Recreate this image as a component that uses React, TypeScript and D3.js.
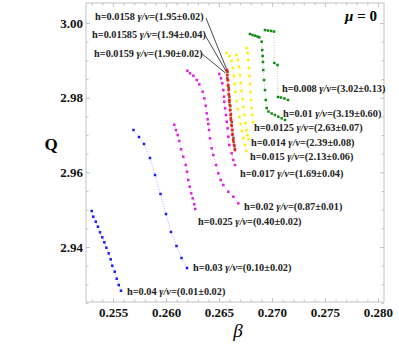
import * as d3 from "d3";
import { useEffect, useRef } from "react";

// beta, Q pairs, one array per field value h
const h004 = [[0.25299, 2.94964], [0.25314, 2.94812], [0.25337, 2.94678], [0.25358, 2.94544], [0.25377, 2.94394], [0.25399, 2.9426], [0.25418, 2.94126], [0.25437, 2.93981], [0.25459, 2.93831], [0.25478, 2.9367], [0.25493, 2.93499], [0.25516, 2.93338], [0.25535, 2.93151], [0.25554, 2.92982], [0.25575, 2.92829]];
const h003 = [[0.25693, 2.97134], [0.25745, 2.96946], [0.25792, 2.96759], [0.25849, 2.96384], [0.25896, 2.95929], [0.25948, 2.9542], [0.26, 2.94884], [0.26047, 2.94402], [0.26099, 2.94027], [0.26146, 2.93705], [0.26198, 2.93438]];
const h0025 = [[0.26078, 2.97276], [0.26094, 2.97134], [0.2611, 2.97], [0.26126, 2.96839], [0.26142, 2.96617], [0.26163, 2.96419], [0.26186, 2.96196], [0.26198, 2.96017], [0.2621, 2.95795], [0.26224, 2.95615], [0.26238, 2.95438], [0.26252, 2.95304], [0.26267, 2.95144], [0.26276, 2.95018]];
const h002 = [[0.26201, 2.98722], [0.26226, 2.98653], [0.26258, 2.98588], [0.2629, 2.98473], [0.26314, 2.98358], [0.26346, 2.9816], [0.26361, 2.97983], [0.26375, 2.97785], [0.26384, 2.97581], [0.26393, 2.97421], [0.26399, 2.97295], [0.26406, 2.97134], [0.26415, 2.96912], [0.26431, 2.96644], [0.26446, 2.96464], [0.26472, 2.96196], [0.26493, 2.95974], [0.26516, 2.95795], [0.26541, 2.95661], [0.26588, 2.95481], [0.26635, 2.95347], [0.26682, 2.9517]];
const h0017 = [[0.26503, 2.98634], [0.26519, 2.98519], [0.26531, 2.98385], [0.26541, 2.98205], [0.26547, 2.98026], [0.2655, 2.97892], [0.26557, 2.97715], [0.26566, 2.97536], [0.26573, 2.97356], [0.26582, 2.97179], [0.26588, 2.96954], [0.26597, 2.96732], [0.2662, 2.9651], [0.26635, 2.9633], [0.26651, 2.96196]];
const h0159 = [[0.26574, 2.98714], [0.26578, 2.98527], [0.26585, 2.98313], [0.26592, 2.98098], [0.26598, 2.97884], [0.26605, 2.9767], [0.26612, 2.97455], [0.2662, 2.97241], [0.26628, 2.97027], [0.26638, 2.96813], [0.26649, 2.96625]];
const h01585 = [[0.2658, 2.98688], [0.26585, 2.98473], [0.26592, 2.98259], [0.26599, 2.98018], [0.26607, 2.97777], [0.26613, 2.97563], [0.26621, 2.97348], [0.26627, 2.97134], [0.26637, 2.9692], [0.26646, 2.96705]];
const h0158 = [[0.26576, 2.98741], [0.26579, 2.98607], [0.26583, 2.98473], [0.26587, 2.98339], [0.26591, 2.98205], [0.26594, 2.98071], [0.26598, 2.97938], [0.26602, 2.97804], [0.26606, 2.9767], [0.26609, 2.97536], [0.26613, 2.97402], [0.26618, 2.97268], [0.26623, 2.97134], [0.26627, 2.97], [0.26634, 2.96866], [0.26642, 2.96732], [0.26651, 2.96598]];
const h0015 = [[0.26571, 2.99196], [0.26599, 2.99116], [0.26618, 2.98982], [0.26632, 2.98795], [0.26642, 2.9858], [0.26648, 2.98366], [0.26654, 2.98152], [0.26665, 2.97911], [0.26679, 2.97696], [0.26693, 2.97482], [0.26703, 2.97295], [0.26717, 2.97107], [0.26731, 2.9692], [0.26745, 2.96732], [0.26759, 2.96571]];
const h0014 = [[0.26665, 2.99143], [0.26679, 2.99009], [0.26689, 2.98821], [0.26698, 2.98607], [0.26705, 2.98393], [0.26712, 2.98179], [0.26722, 2.97964], [0.26731, 2.9775], [0.26741, 2.97536], [0.2675, 2.97321], [0.26759, 2.97134], [0.26769, 2.97], [0.26778, 2.96893]];
const h00125 = [[0.26759, 2.9933], [0.26769, 2.99196], [0.26776, 2.99009], [0.26783, 2.98795], [0.26788, 2.9858], [0.26792, 2.98366], [0.26797, 2.98152], [0.26802, 2.97938], [0.26808, 2.97723], [0.26814, 2.97536], [0.26821, 2.97348]];
const h001 = [[0.26792, 2.99705], [0.26816, 2.99679], [0.2684, 2.9966], [0.26863, 2.99638], [0.2688, 2.99617], [0.26903, 2.99499], [0.26908, 2.99277], [0.26912, 2.99116], [0.26915, 2.98955], [0.26918, 2.98741], [0.26925, 2.98473], [0.26934, 2.98205], [0.26941, 2.97938], [0.2695, 2.97723], [0.26967, 2.97629], [0.26997, 2.97576], [0.27028, 2.97536], [0.27059, 2.9749], [0.27092, 2.97447], [0.27123, 2.97402]];
const h0008 = [[0.26934, 2.99813], [0.26962, 2.99799], [0.26991, 2.99786], [0.27019, 2.99772], [0.27022, 2.98929], [0.27052, 2.98875], [0.27057, 2.98018], [0.27085, 2.98004], [0.27118, 2.97978], [0.27151, 2.97938]];

const seriesData = [h004, h003, h0025, h002, h0017, h0015, h0014, h00125, h001, h0008, h0159, h01585, h0158];
const seriesColors = ["#1a1aff", "#1a1aff", "#e020e0", "#e020e0", "#e020e0", "#ffee00", "#ffee00", "#ffee00", "#108a10", "#108a10", "#c83c1e", "#8b5a2b", "#ff1a1a"];

// labels: h, gamma/nu, anchor (beta, Q) of the text start
const labelH = ["0.008", "0.01", "0.0125", "0.014", "0.015", "0.017", "0.02", "0.025", "0.03", "0.04", "0.0158", "0.01585", "0.0159"];
const labelGamma = ["3.02±0.13", "3.19±0.60", "2.63±0.07", "2.39±0.08", "2.13±0.06", "1.69±0.04", "0.87±0.01", "0.40±0.02", "0.10±0.02", "0.01±0.02", "1.95±0.02", "1.94±0.04", "1.90±0.02"];
const labelBeta = [0.27094, 0.27104, 0.2683, 0.26802, 0.26792, 0.26698, 0.26736, 0.26302, 0.26255, 0.25632, 0.2533, 0.25302, 0.25321];
const labelQ = [2.98259, 2.97589, 2.97188, 2.96786, 2.96411, 2.95982, 2.95098, 2.9467, 2.93438, 2.92821, 3.00161, 2.99705, 2.99196];

// leader lines from the three top-left labels to the red cluster
const leaderFrom = [[0.26377, 3.00134], [0.26368, 2.99679], [0.2633, 2.99196]];
const leaderTo = [[0.26571, 2.98768], [0.26566, 2.98714], [0.26561, 2.98661]];

const xMajor = [0.255, 0.26, 0.265, 0.27, 0.275, 0.28];
const yMajor = [2.94, 2.96, 2.98, 3.0];

const W = 399;
const H = 344;
const margin = { top: 3, right: 15, bottom: 42, left: 86 };
const serif = "'Liberation Serif', 'Times New Roman', serif";

export default function App() {
  const ref = useRef<SVGSVGElement | null>(null);

  useEffect(() => {
    if (!ref.current) return;
    const svg = d3.select(ref.current);
    svg.selectAll("*").remove();

    const x = d3.scaleLinear().domain([0.25245, 0.28057]).range([margin.left, W - margin.right]);
    const y = d3.scaleLinear().domain([2.92527, 3.00536]).range([H - margin.bottom, margin.top]);

    const xMinor = d3.range(253, 281).map((d) => d / 1000).filter((d) => !xMajor.some((m) => Math.abs(m - d) < 1e-9));
    const yMinor = d3.range(585, 601).map((d) => d / 200).filter((d) => !yMajor.some((m) => Math.abs(m - d) < 1e-9));

    const frame = "#c4c4c4";

    // axes: ticks point inward, domain drawn by the frame rect
    const styleAxis = (g: any) => {
      g.select(".domain").remove();
      g.selectAll(".tick line").attr("stroke", frame);
      g.selectAll(".tick text")
        .attr("fill", "#111")
        .style("font-family", serif)
        .style("font-weight", "bold")
        .style("font-size", "13px");
    };

    const bottom = H - margin.bottom;
    const right = W - margin.right;

    svg.append("g").attr("transform", `translate(0,${bottom})`)
      .call(d3.axisBottom(x).tickValues(xMajor).tickSizeInner(-4).tickSizeOuter(0).tickPadding(6).tickFormat(d3.format(".3f")))
      .call(styleAxis);
    svg.append("g").attr("transform", `translate(0,${bottom})`)
      .call(d3.axisBottom(x).tickValues(xMinor).tickSizeInner(-2.5).tickSizeOuter(0).tickFormat(() => ""))
      .call(styleAxis);
    svg.append("g").attr("transform", `translate(0,${margin.top})`)
      .call(d3.axisTop(x).tickValues(xMajor).tickSizeInner(-4).tickSizeOuter(0).tickFormat(() => ""))
      .call(styleAxis);
    svg.append("g").attr("transform", `translate(0,${margin.top})`)
      .call(d3.axisTop(x).tickValues(xMinor).tickSizeInner(-2.5).tickSizeOuter(0).tickFormat(() => ""))
      .call(styleAxis);

    svg.append("g").attr("transform", `translate(${margin.left},0)`)
      .call(d3.axisLeft(y).tickValues(yMajor).tickSizeInner(-4).tickSizeOuter(0).tickPadding(3).tickFormat(d3.format(".2f")))
      .call(styleAxis);
    svg.append("g").attr("transform", `translate(${margin.left},0)`)
      .call(d3.axisLeft(y).tickValues(yMinor).tickSizeInner(-2.5).tickSizeOuter(0).tickFormat(() => ""))
      .call(styleAxis);
    svg.append("g").attr("transform", `translate(${right},0)`)
      .call(d3.axisRight(y).tickValues(yMajor).tickSizeInner(-4).tickSizeOuter(0).tickFormat(() => ""))
      .call(styleAxis);
    svg.append("g").attr("transform", `translate(${right},0)`)
      .call(d3.axisRight(y).tickValues(yMinor).tickSizeInner(-2.5).tickSizeOuter(0).tickFormat(() => ""))
      .call(styleAxis);

    svg.append("rect")
      .attr("x", margin.left).attr("y", margin.top)
      .attr("width", right - margin.left).attr("height", bottom - margin.top)
      .attr("fill", "none").attr("stroke", frame).attr("stroke-width", 1);

    // thin dotted joins, then the square markers
    const line = d3.line<number[]>().x((d) => x(d[0])).y((d) => y(d[1]));
    seriesData.forEach((pts, i) => {
      svg.append("path")
        .attr("d", line(pts))
        .attr("fill", "none")
        .attr("stroke", seriesColors[i])
        .attr("stroke-opacity", 0.45)
        .attr("stroke-width", 0.8)
        .attr("stroke-dasharray", "1,1.5");
    });
    const ms = 2.5;
    seriesData.forEach((pts, i) => {
      svg.append("g").selectAll("rect").data(pts).enter().append("rect")
        .attr("x", (d) => x(d[0]) - ms / 2)
        .attr("y", (d) => y(d[1]) - ms / 2)
        .attr("width", ms).attr("height", ms)
        .attr("fill", seriesColors[i]);
    });

    // leader lines
    leaderFrom.forEach((f, i) => {
      svg.append("line")
        .attr("x1", x(f[0])).attr("y1", y(f[1]))
        .attr("x2", x(leaderTo[i][0])).attr("y2", y(leaderTo[i][1]))
        .attr("stroke", "#333").attr("stroke-width", 0.9);
    });

    // curve labels
    labelH.forEach((h, i) => {
      const t = svg.append("text")
        .attr("x", x(labelBeta[i]))
        .attr("y", y(labelQ[i]) + 3.5)
        .attr("fill", "#222")
        .style("font-family", serif)
        .style("font-weight", "bold")
        .style("font-size", "10.3px");
      t.append("tspan").text(`h=${h} `);
      t.append("tspan").style("font-style", "italic").text("γ/ν");
      t.append("tspan").text(`=(${labelGamma[i]})`);
    });

    // axis titles and mu
    svg.append("text")
      .attr("x", 51).attr("y", 150)
      .attr("text-anchor", "middle")
      .style("font-family", serif).style("font-weight", "bold").style("font-size", "17px")
      .text("Q");
    svg.append("text")
      .attr("x", 238).attr("y", 337)
      .attr("text-anchor", "middle")
      .style("font-family", serif).style("font-style", "italic").style("font-size", "19px")
      .text("β");
    const mu = svg.append("text")
      .attr("x", 377).attr("y", 21)
      .attr("text-anchor", "end")
      .style("font-family", serif).style("font-weight", "bold").style("font-size", "15px");
    mu.append("tspan").style("font-style", "italic").text("μ");
    mu.append("tspan").text(" = 0");
  }, []);

  return (
    <svg ref={ref} width={W} height={H} style={{ position: "absolute", left: 0, top: 0, background: "#fff" }} />
  );
}
